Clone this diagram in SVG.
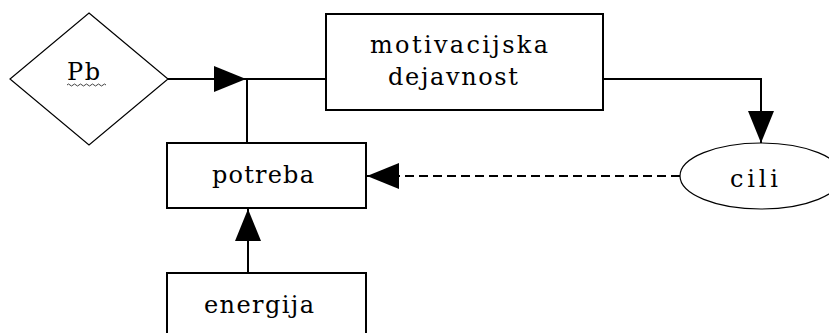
<svg xmlns="http://www.w3.org/2000/svg" width="829" height="333" viewBox="0 0 829 333">
  <style>
    .box { fill: #fff; stroke: #000; stroke-width: 2; }
    .thin { fill: #fff; stroke: #000; stroke-width: 1.2; }
    .lbl { font-family: "DejaVu Serif", "Liberation Serif", serif; font-size: 24px; fill: #000; }
    .wire { fill: none; stroke: #000; stroke-width: 2; }
    .dash { stroke-dasharray: 9 5; }
  </style>
  <defs>
    <marker id="tri" viewBox="0 0 32 26" refX="32" refY="13" markerWidth="32" markerHeight="26" markerUnits="userSpaceOnUse" orient="auto">
      <path d="M0,0 L32,13 L0,26 Z" fill="#000"/>
    </marker>
  </defs>

  <!-- connectors -->
  <g id="connectors">
    <line class="wire" x1="168" y1="79" x2="246" y2="79" marker-end="url(#tri)"/>
    <line class="wire" x1="246" y1="79" x2="326" y2="79"/>
    <line class="wire" x1="247" y1="143" x2="247" y2="79"/>
    <polyline class="wire" points="603,79 761,79 761,143" marker-end="url(#tri)"/>
    <line class="wire dash" x1="680" y1="176" x2="367" y2="176" marker-end="url(#tri)"/>
    <line class="wire" x1="248" y1="273" x2="248" y2="209" marker-end="url(#tri)"/>
  </g>

  <g id="pb">
    <polygon class="thin" points="89,13 168,79 89,145 10,79"/>
    <text class="lbl" x="67" y="80" textLength="33" lengthAdjust="spacing">Pb</text>
    <path d="M67,85 q1.5,-2 3,0 t3,0 t3,0 t3,0 t3,0 t3,0 t3,0 t3,0 t3,0 t3,0 t3,0 t3,0 t3,0" fill="none" stroke="#444" stroke-width="1"/>
  </g>

  <g id="motivacijska">
    <rect class="box" x="326" y="14" width="277" height="96"/>
    <text class="lbl" x="370" y="53" textLength="178" lengthAdjust="spacing">motivacijska</text>
    <text class="lbl" x="388" y="85" textLength="130" lengthAdjust="spacing">dejavnost</text>
  </g>

  <g id="cili">
    <ellipse class="thin" cx="761" cy="176" rx="81" ry="33"/>
    <text class="lbl" x="730" y="187" textLength="48" lengthAdjust="spacing">cili</text>
  </g>

  <g id="potreba">
    <rect class="box" x="167" y="143" width="199" height="65"/>
    <text class="lbl" x="212" y="183" textLength="102" lengthAdjust="spacing">potreba</text>
  </g>

  <g id="energija">
    <rect class="box" x="167" y="273" width="199" height="70"/>
    <text class="lbl" x="204" y="313" textLength="110" lengthAdjust="spacing">energija</text>
  </g>
</svg>
